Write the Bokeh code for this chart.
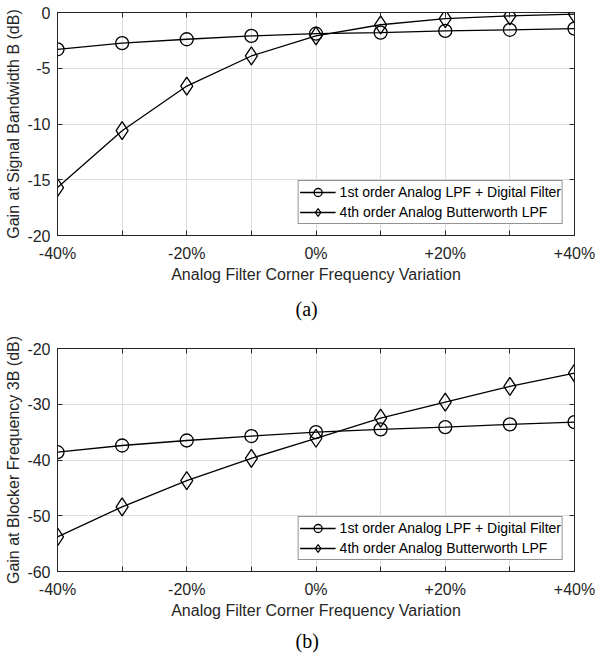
from bokeh.plotting import figure
from bokeh.models import Range1d, FixedTicker, LinearAxis, Legend, LegendItem, Title
from bokeh.layouts import column
from bokeh.embed import file_html
from bokeh.resources import INLINE

variation = [-40, -30, -20, -10, 0, 10, 20, 30, 40]
x_label_ticks = [-40, -20, 0, 20, 40]
x_other_ticks = [-30, -10, 10, 30]
x_tick_labels = ["-40%", "-20%", "0%", "+20%", "+40%"]
series_names = ["1st order Analog LPF + Digital Filter", "4th order Analog Butterworth LPF"]

gain_a_first = [-3.3, -2.75, -2.4, -2.1, -1.9, -1.8, -1.65, -1.55, -1.45]
gain_a_fourth = [-15.7, -10.6, -6.6, -3.9, -2.1, -1.1, -0.55, -0.3, -0.15]
gain_b_first = [-38.6, -37.4, -36.5, -35.7, -35.0, -34.5, -34.1, -33.6, -33.2]
gain_b_fourth = [-53.8, -48.4, -43.7, -39.7, -36.1, -32.5, -29.6, -26.8, -24.4]

y_ticks_a = [-20, -15, -10, -5, 0]
y_ticks_b = [-60, -50, -40, -30, -20]
ylabel_a = "Gain at Signal Bandwidth B (dB)"
ylabel_b = "Gain at Blocker Frequency 3B (dB)"
xlabel = "Analog Filter Corner Frequency Variation"
captions = ["(a)", "(b)"]

FONT = "Liberation Sans"
AX = "#262626"


def make(first, fourth, yticks, ylabel, caption, top_border, bottom_border, cap_standoff):
    all_x = sorted(x_label_ticks + x_other_ticks)
    p = figure(frame_width=517, frame_height=223,
               output_backend="svg", toolbar_location=None, title=None,
               x_range=Range1d(min(all_x), max(all_x)),
               y_range=Range1d(min(yticks), max(yticks)),
               min_border_left=57, min_border_right=21, min_border_top=top_border,
               min_border_bottom=bottom_border)
    p.background_fill_color = "white"
    p.border_fill_color = "white"
    p.outline_line_color = AX
    p.outline_line_width = 1

    xt = FixedTicker(ticks=x_label_ticks, minor_ticks=x_other_ticks)
    yt = FixedTicker(ticks=yticks)
    p.xaxis.ticker = xt
    p.yaxis.ticker = yt
    p.xaxis.major_label_overrides = {t: l for t, l in zip(x_label_ticks, x_tick_labels)}
    p.yaxis.major_label_overrides = {t: str(t) for t in yticks}
    for ax in (p.xaxis[0], p.yaxis[0]):
        ax.major_tick_in = 5
        ax.major_tick_out = 0
        ax.minor_tick_in = 5
        ax.minor_tick_out = 0
        ax.minor_tick_line_color = AX
        ax.axis_line_color = AX
        ax.major_tick_line_color = AX
        ax.major_label_text_font = FONT
        ax.major_label_text_font_size = "16px"
        ax.major_label_text_color = AX
        ax.axis_label_text_font = FONT
        ax.axis_label_text_font_size = "16px"
        ax.axis_label_text_font_style = "normal"
        ax.axis_label_text_color = AX
    p.xaxis.major_label_standoff = 9
    p.xaxis.axis_label_standoff = 1
    p.yaxis.major_label_standoff = 7
    p.yaxis.axis_label_standoff = 2
    p.xaxis.axis_label = xlabel
    p.yaxis.axis_label = ylabel

    top = LinearAxis(ticker=FixedTicker(ticks=[], minor_ticks=all_x),
                     minor_tick_in=5, minor_tick_out=0, major_label_standoff=0,
                     axis_line_color=AX, minor_tick_line_color=AX)
    right = LinearAxis(ticker=FixedTicker(ticks=[], minor_ticks=yticks),
                       minor_tick_in=5, minor_tick_out=0, major_label_standoff=0,
                       axis_line_color=AX, minor_tick_line_color=AX)
    p.add_layout(top, "above")
    p.add_layout(right, "right")

    p.xgrid.ticker = FixedTicker(ticks=all_x)
    p.ygrid.ticker = yt
    p.xgrid.grid_line_color = "#dcdcdc"
    p.ygrid.grid_line_color = "#dcdcdc"

    l1 = p.line(variation, first, line_color="black", line_width=1.3)
    s1 = p.scatter(variation, first, marker="circle", size=13, fill_color=None,
                   line_color="black", line_width=1.3)
    l2 = p.line(variation, fourth, line_color="black", line_width=1.3)
    s2 = p.scatter(variation, fourth, marker="diamond", size=18, fill_color=None,
                   line_color="black", line_width=1.3)

    leg = Legend(items=[LegendItem(label=series_names[0], renderers=[l1, s1]),
                        LegendItem(label=series_names[1], renderers=[l2, s2])],
                 location="bottom_right", margin=11, padding=1, spacing=0,
                 glyph_width=36, glyph_height=20, label_height=19, label_standoff=4,
                 label_text_font=FONT, label_text_font_size="14px", label_text_color="black",
                 border_line_color=AX, border_line_width=1,
                 background_fill_color="white", background_fill_alpha=1)
    p.add_layout(leg)

    p.add_layout(Title(text=caption, align="left", text_font="Liberation Serif",
                       text_font_size="20px", text_font_style="normal", text_color="black",
                       standoff=cap_standoff, offset=238), "below")
    return p


pa = make(gain_a_first, gain_a_fourth, y_ticks_a, ylabel_a, captions[0], 12, 99, 20)
pb = make(gain_b_first, gain_b_fourth, y_ticks_b, ylabel_b, captions[1], 14, 85, 13)

layout = column(pa, pb, spacing=0)
open("out.html", "w").write(file_html(layout, INLINE))
